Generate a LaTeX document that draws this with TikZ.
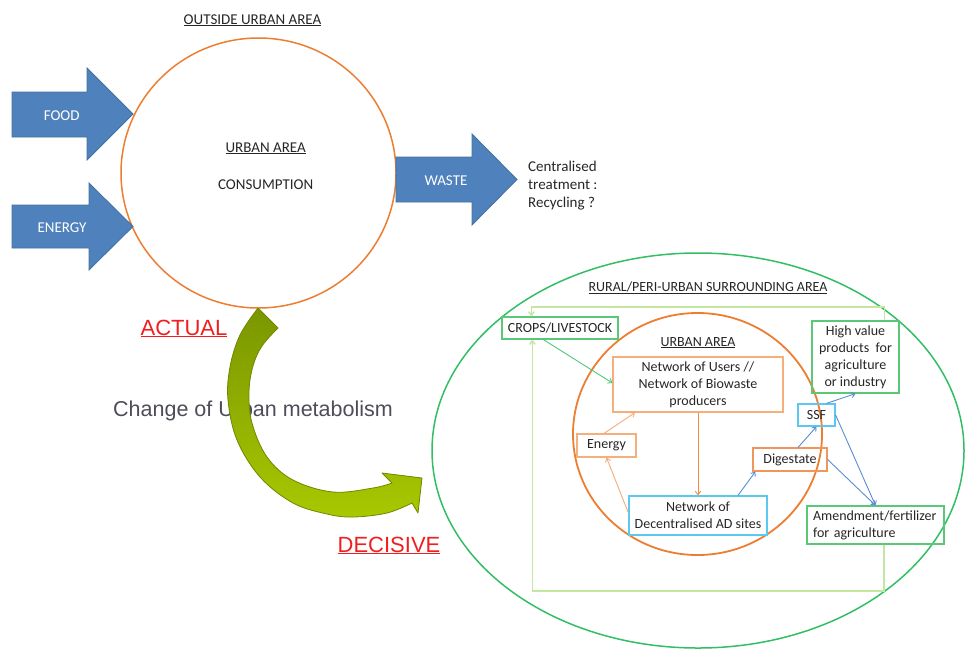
\documentclass[tikz,border=0pt]{standalone}
\usepackage{fontspec}
\setmainfont{Carlito}
\newfontfamily\arialfont{Liberation Sans}
\usetikzlibrary{arrows.meta,shapes.geometric}

\definecolor{ink}{RGB}{38,38,38}
\definecolor{greyink}{RGB}{77,77,90}
\definecolor{redlabel}{RGB}{240,30,30}
\definecolor{blockblue}{RGB}{79,129,189}
\definecolor{blockedge}{RGB}{65,113,156}
\definecolor{urbanorange}{RGB}{237,125,49}
\definecolor{ruralgreen}{RGB}{50,190,100}
\definecolor{boxgreen}{RGB}{90,200,120}
\definecolor{loopgreen}{RGB}{195,230,160}
\definecolor{paleorange}{RGB}{245,175,125}
\definecolor{midorange}{RGB}{240,150,90}
\definecolor{skyblue}{RGB}{90,200,240}
\definecolor{flowblue}{RGB}{90,140,210}
\definecolor{flowgreen}{RGB}{80,200,120}
\definecolor{flowpale}{RGB}{245,170,120}
\definecolor{flowdark}{RGB}{240,140,70}
\definecolor{olivetop}{RGB}{122,150,0}
\definecolor{olivebot}{RGB}{168,200,0}
\definecolor{oliveedge}{RGB}{110,136,0}

\begin{document}
\begin{tikzpicture}[x=1pt,y=-1pt,
  lefttext/.style={inner sep=0, text=ink, font=\fontsize{15}{17.7}\selectfont},
  righttext/.style={inner sep=0, text=ink, font=\fontsize{14}{17}\selectfont},
  whitetext/.style={inner sep=0, text=white, font=\fontsize{15}{18}\selectfont},
  redtext/.style={inner sep=0, text=redlabel, font=\arialfont\fontsize{22}{26}\selectfont},
  blockarrow/.style={fill=blockblue, draw=blockedge, line width=0.8pt},
  area/.style={ellipse, inner sep=0, line width=1.5pt},
  box/.style={rectangle, draw, line width=1.2pt, inner sep=0, align=center,
              text=ink, font=\fontsize{14}{17}\selectfont},
  flow/.style={line width=0.9pt, -{Straight Barb[length=3.5pt,width=5.5pt]}},
  loop/.style={draw=loopgreen, line width=1.5pt, -{Straight Barb[length=3.5pt,width=5.5pt]}}
]
\useasboundingbox (0,0) rectangle (965,651);

% ---------------- current linear metabolism ----------------
\node[lefttext, anchor=base] (outside) at (252.5,24) {\underline{OUTSIDE URBAN AREA}};
\node[area, draw=urbanorange, minimum width=275pt, minimum height=270pt] (city) at (258.5,173) {};
\node[lefttext, anchor=base] (cityname) at (265.7,152) {\underline{URBAN AREA}};
\node[lefttext, anchor=base] (consumption) at (265.7,189) {CONSUMPTION};

% input and output block arrows
\path[blockarrow] (12,92) -- (87,92) -- (87,68) -- (133,114) -- (87,160) -- (87,137) -- (12,137) -- cycle;
\path[blockarrow] (12,205) -- (89,205) -- (89,183) -- (133,226.5) -- (89,270) -- (89,248) -- (12,248) -- cycle;
\path[blockarrow] (396,157) -- (472,157) -- (472,134) -- (517,179.5) -- (472,225) -- (472,202) -- (396,202) -- cycle;
\node[whitetext, anchor=base] (food) at (61.7,120) {FOOD};
\node[whitetext, anchor=base] (energyin) at (62,232) {ENERGY};
\node[whitetext, anchor=base] (waste) at (446,185) {WASTE};
\node[lefttext, anchor=west, align=left] (central) at (528,185.5) {Centralised\\treatment :\\Recycling ?};

% ---------------- transition ----------------
\node[redtext, anchor=base] (actual) at (184,335) {\underline{ACTUAL}};
\node[redtext, anchor=base] (decisive) at (389,552) {\underline{DECISIVE}};
\node[inner sep=0, text=greyink, font=\arialfont\fontsize{21.5}{26}\selectfont] (change) at (253,411) {Change of Urban metabolism};

% curved transition arrow
\shadedraw[top color=olivetop, bottom color=olivebot, draw=oliveedge, line width=0.8pt, line join=round]
  (258,308) -- (278,328)
  -- plot[smooth, tension=0.6] coordinates {(278,328) (262,346) (253,366) (249,392) (252,423) (267,457) (293,480) (333,492) (373,488) (392,483)}
  -- (382,473) -- (422,478) -- (418,513) -- (412,503)
  -- plot[smooth, tension=0.6] coordinates {(412,503) (387,513) (353,517) (327,514) (293,503) (260,477) (237,440) (228,400) (230,367) (240,335) (258,308)}
  -- cycle;

% ---------------- decentralised metabolism ----------------
\node[area, draw=ruralgreen, minimum width=532pt, minimum height=395pt] (rural) at (698,450.5) {};
\node[righttext, anchor=base] (ruralname) at (708,291) {\underline{RURAL/PERI-URBAN SURROUNDING AREA}};
\node[area, draw=urbanorange, line width=1.8pt, minimum width=249pt, minimum height=242pt] (urban) at (697.5,434) {};
\node[righttext, anchor=base] (urbanname) at (698,346) {\underline{URBAN AREA}};

\node[box, draw=boxgreen, minimum width=116pt, minimum height=22pt] (crops) at (560,328) {CROPS/LIVESTOCK};
\node[box, draw=paleorange, minimum width=170pt, minimum height=55pt] (users) at (698,384.5)
  {Network of Users //\\Network of Biowaste\\producers};
\node[box, draw=paleorange, minimum width=59pt, minimum height=23pt] (energy) at (606.5,445.5) {Energy};
\node[box, draw=skyblue, minimum width=138pt, minimum height=39pt] (ad) at (698,515.5)
  {Network of\\Decentralised AD sites};
\node[box, draw=midorange, minimum width=74pt, minimum height=23pt] (dig) at (790,459.5) {Digestate};
\node[box, draw=skyblue, minimum width=37pt, minimum height=22pt] (ssf) at (816.5,415) {SSF};
\node[box, draw=boxgreen, minimum width=87pt, minimum height=72pt] (hv) at (855.5,357)
  {High value\\products\ \ for\\agriculture\\or industry};
\node[box, draw=boxgreen, minimum width=137pt, minimum height=38pt, text width=125pt, align=left] (am) at (875.5,525)
  {Amendment/fertilizer\\for agriculture};

% flows inside the urban area
\draw[flow, draw=flowgreen] ([xshift=42pt]crops.south west) -- ([yshift=1.5pt]users.west);
\draw[flow, draw=flowdark] (users.south) -- (ad.north);
\draw[flow, draw=flowpale] ([yshift=2.5pt]ad.west) -- (energy.south);
\draw[flow, draw=flowpale] ([xshift=-2.5pt]energy.north) -- ([xshift=-63pt]users.south);
\draw[flow, draw=flowblue] ([xshift=40pt]ad.north) -- ([xshift=3pt]dig.south west);
\draw[flow, draw=flowblue] ([xshift=8pt]dig.north) -- (ssf.south);
\draw[flow, draw=flowblue] ([xshift=10pt]ssf.north) -- (hv.south);
\draw[flow, draw=flowblue] (ssf.east) -- (am.north);
\draw[flow, draw=flowblue] (dig.east) -- (am.north);

% return loops to the surrounding agriculture
\coordinate (looptop) at (700,307);
\coordinate (loopbot) at (700,591);
\draw[loop] ([xshift=-15pt]hv.north east) |- (looptop) -| ([xshift=30pt]crops.north west);
\draw[loop] ([xshift=8.5pt]am.south) |- (loopbot) -| ([xshift=31pt]crops.south west);

\end{tikzpicture}
\end{document}
